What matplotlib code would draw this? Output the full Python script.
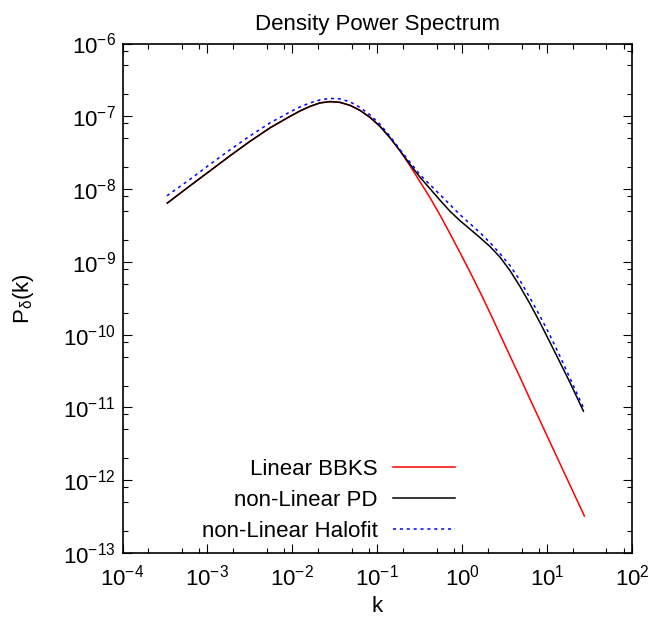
import numpy as np
import matplotlib
matplotlib.use("Agg")
import matplotlib.pyplot as plt
from matplotlib.ticker import LogLocator, FixedLocator, FixedFormatter, NullFormatter

plt.rcParams['font.family'] = ['Liberation Sans', 'DejaVu Sans']
plt.rcParams['mathtext.fontset'] = 'custom'
plt.rcParams['mathtext.rm'] = 'Liberation Sans'
plt.rcParams['mathtext.it'] = 'Liberation Sans:italic'
plt.rcParams['mathtext.bf'] = 'Liberation Sans:bold'

# ---- data (log10 values) ----
low_logk = [-3.472, -3.205, -2.969, -2.734, -2.498, -2.263, -2.027, -1.909, -1.792,
            -1.674, -1.556, -1.438, -1.320, -1.203, -1.085, -0.967, -0.849, -0.731]
low_logp = [-8.192, -7.955, -7.749, -7.543, -7.344, -7.159, -7.001, -6.926, -6.864,
            -6.816, -6.798, -6.809, -6.850, -6.919, -7.015, -7.139, -7.296, -7.475]

pd_high_logk = [-0.614, -0.496, -0.378, -0.260, -0.143, -0.025, 0.093, 0.211, 0.329,
                0.446, 0.564, 0.682, 0.800, 0.918, 1.035, 1.153, 1.271, 1.428]
pd_high_logp = [-7.660, -7.838, -7.996, -8.154, -8.305, -8.435, -8.551, -8.668, -8.791,
                -8.936, -9.121, -9.340, -9.580, -9.838, -10.108, -10.383, -10.661, -11.051]

bbks_high_logk = [-0.614, -0.496, -0.378, -0.260, -0.143, -0.025, 0.093, 0.211, 0.329,
                  0.446, 0.564, 0.682, 0.800, 0.918, 1.035, 1.153, 1.271, 1.439]
bbks_high_logp = [-7.680, -7.900, -8.119, -8.359, -8.613, -8.874, -9.141, -9.416, -9.704,
                  -9.999, -10.294, -10.588, -10.890, -11.185, -11.480, -11.775, -12.070, -12.491]

halo_logk = [-3.476, -3.205, -2.969, -2.734, -2.498, -2.263, -2.027, -1.909, -1.792,
             -1.674, -1.556, -1.438, -1.320, -1.203, -1.085, -0.967, -0.849, -0.731,
             -0.614, -0.496, -0.378, -0.260, -0.143, -0.025, 0.093, 0.211, 0.329,
             0.446, 0.564, 0.682, 0.800, 0.918, 1.035, 1.153, 1.271, 1.428]
halo_logp = [-8.092, -7.866, -7.660, -7.461, -7.269, -7.091, -6.940, -6.871, -6.816,
             -6.775, -6.754, -6.761, -6.802, -6.878, -6.981, -7.111, -7.276, -7.461,
             -7.632, -7.804, -7.941, -8.078, -8.215, -8.353, -8.476, -8.600, -8.737,
             -8.888, -9.052, -9.258, -9.498, -9.748, -10.012, -10.300, -10.602, -11.004]

x_exps = [-4, -3, -2, -1, 0, 1, 2]
y_exps = [-13, -12, -11, -10, -9, -8, -7, -6]
labels = ["Linear BBKS", "non-Linear PD", "non-Linear Halofit"]
title = "Density Power Spectrum"

pd_k = 10 ** np.array(low_logk + pd_high_logk)
pd_p = 10 ** np.array(low_logp + pd_high_logp)
bbks_k = 10 ** np.array(low_logk + bbks_high_logk)
bbks_p = 10 ** np.array(low_logp + bbks_high_logp)
halo_k = 10 ** np.array(halo_logk)
halo_p = 10 ** np.array(halo_logp)

fig = plt.figure(figsize=(6.5, 6.23), dpi=100)
ax = fig.add_axes([122.5/650, 1-553/623, (632-122.5)/650, (553-43.5)/623])

l1, = ax.plot(bbks_k, bbks_p, color='#ff0000', lw=1.1)
l2, = ax.plot(pd_k, pd_p, color='black', lw=1.1)
l3, = ax.plot(halo_k, halo_p, color='#0000ff', lw=1.1, linestyle=(0, (2, 2.5)))

ax.set_xscale('log')
ax.set_yscale('log')
ax.set_xlim(1e-4, 1e2)
ax.set_ylim(1e-13, 1e-6)

ax.xaxis.set_major_locator(FixedLocator([10.0**e for e in x_exps]))
ax.xaxis.set_major_formatter(FixedFormatter([r'$\mathregular{10^{%d}}$' % e for e in x_exps]))
ax.yaxis.set_major_locator(FixedLocator([10.0**e for e in y_exps]))
ax.yaxis.set_major_formatter(FixedFormatter([r'$\mathregular{10^{%d}}$' % e for e in y_exps]))
ax.xaxis.set_minor_locator(LogLocator(base=10, subs=(2, 5, 8), numticks=50))
ax.yaxis.set_minor_locator(LogLocator(base=10, subs=(2, 5, 8), numticks=50))
ax.xaxis.set_minor_formatter(NullFormatter())
ax.yaxis.set_minor_formatter(NullFormatter())

ax.tick_params(which='both', direction='in', top=True, right=True, width=0.8)
ax.tick_params(which='major', length=6.5, labelsize=16)
ax.tick_params(axis='x', which='major', pad=8)
ax.tick_params(axis='y', which='major', pad=5)
ax.tick_params(which='minor', length=3.3)
for s in ax.spines.values():
    s.set_linewidth(1.2)

ax.set_xlabel('k', fontsize=16, labelpad=4)
ax.set_ylabel(r'$\mathregular{P_{\delta}(k)}$', fontsize=16, labelpad=19)
ax.set_title(title, fontsize=16, pad=10)

leg = ax.legend([l1, l2, l3], labels, loc='lower right', bbox_to_anchor=(0.653, 0.022),
                frameon=False, markerfirst=False, fontsize=16, handlelength=2.8,
                handletextpad=0.7, labelspacing=0.45, borderpad=0, borderaxespad=0)
for t in leg.get_texts():
    t.set_ha('right')

fig.savefig('out.png', dpi=100)
